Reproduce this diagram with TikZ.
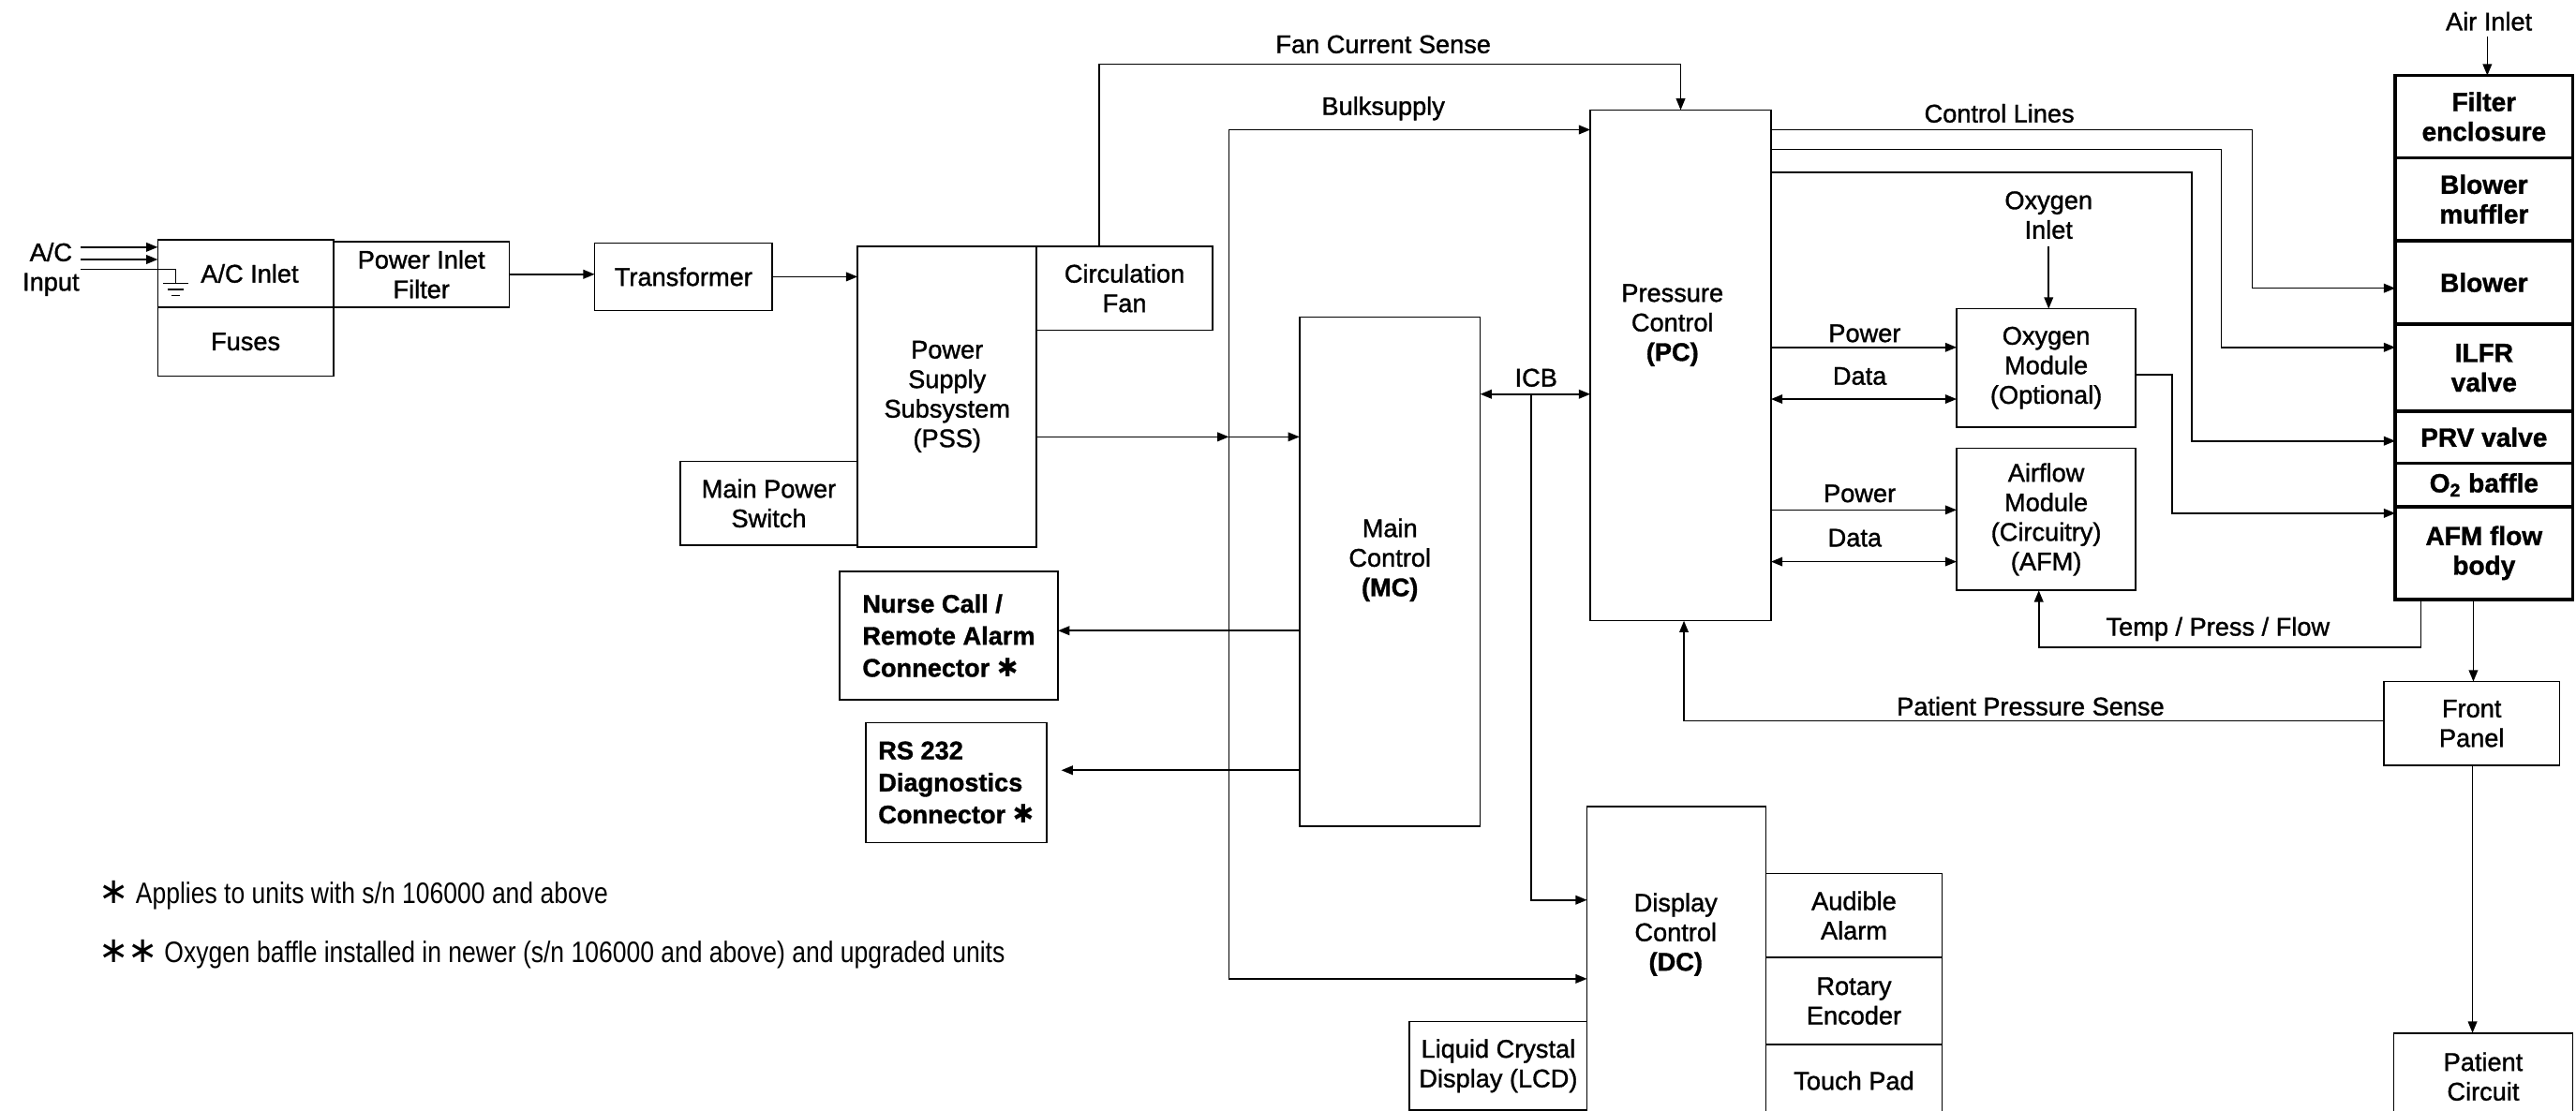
\documentclass[tikz,border=0pt]{standalone}
\usepackage{fontspec}
\setmainfont{Liberation Sans}[FakeBold=1.2]
\newfontfamily\narrowfont[FakeStretch=0.84]{Liberation Sans}
\newfontfamily\symfont{DejaVu Sans}
\usetikzlibrary{arrows.meta}
\newcommand\lab{\fontsize{15.5}{18}\selectfont}
\newcommand\blab{\fontsize{15.5}{19.5}\selectfont\bfseries}
\newcommand\rlab{\fontsize{16}{18}\selectfont\bfseries}
\newcommand\foot{\fontsize{18}{20}\selectfont\narrowfont}
\newcommand\astk{{\symfont\char"2731}}
\newcommand\astn{{\symfont\char"2217}}

\tikzset{
  box/.style={draw, line width=0.9pt, inner sep=0pt, outer sep=0pt,
    align=center, font=\lab, anchor=north west},
  rbox/.style={box, line width=2pt, font=\rlab, minimum width=108pt},
  wire/.style={line width=0.9pt},
  arr/.style={wire, -{Triangle[length=7pt,width=5.5pt]}},
  darr/.style={wire, {Triangle[length=7pt,width=5.5pt]}-{Triangle[length=7pt,width=5.5pt]}},
  txt/.style={inner sep=0pt, align=center, font=\lab},
}

\begin{document}
\begin{tikzpicture}[x=1pt, y=-1pt]
\useasboundingbox (0,0) rectangle (1568,676);

% ---------- power entry ----------
\node[box, minimum width=107pt, minimum height=41pt] (acin) at (96,146) {\hspace*{5pt}A/C Inlet};
\node[box, minimum width=107pt, minimum height=40pt] (pif) at (203,147) {Power Inlet\\Filter};
\node[box, minimum width=107pt, minimum height=42pt] (fuses) at (96,187) {Fuses};
\node[box, minimum width=108pt, minimum height=41pt] (xfmr) at (362,148) {Transformer};
\node[box, minimum width=109pt, minimum height=183pt] (pss) at (522,150) {Power\\Supply\\Subsystem\\(PSS)};
\node[box, minimum width=107pt, minimum height=51pt] (cfan) at (631,150) {Circulation\\Fan};
\node[box, minimum width=108pt, minimum height=51pt] (mps) at (414,281) {Main Power\\Switch};

\node[txt] (acinput) at (31,164) {A/C\\Input};
\coordinate (ac1) at (49,150.5);
\coordinate (ac2) at (49,158);
\coordinate (ac3) at (49,164);
\coordinate (gnd) at (107,172.5);
\draw[arr] (ac1) -- (ac1 -| acin.west);
\draw[arr] (ac2) -- (ac2 -| acin.west);
\draw[wire] (ac3) -- (ac3 -| gnd) -- (gnd);
\draw[wire] (99.5,172.5) -- (114.5,172.5)
            (102,176.3) -- (112,176.3)
            (104.5,180) -- (109.5,180);

\draw[arr] (pif.east) -- (pif.east -| xfmr.west);
\draw[arr] (xfmr.east) -- (xfmr.east -| pss.west);

% ---------- control boards ----------
\node[box, minimum width=110pt, minimum height=310pt] (mc) at (791,193) {};
\node[txt] (mclab) at (846,341) {Main\\Control\\\textbf{(MC)}};
\node[box, minimum width=110pt, minimum height=311pt] (pc) at (968,67) {};
\node[txt] (pclab) at (1018,198) {Pressure\\Control\\\textbf{(PC)}};
\node[box, minimum width=109pt, minimum height=186pt] (dc) at (966,491) {};
\node[txt] (dclab) at (1020,569) {Display\\Control\\\textbf{(DC)}};

\node[box, minimum width=107pt, minimum height=51pt] (alarm) at (1075,532) {Audible\\Alarm};
\node[box, minimum width=107pt, minimum height=53pt] (rotary) at (1075,583) {Rotary\\Encoder};
\node[box, minimum width=107pt, minimum height=44pt] (touch) at (1075,636) {Touch Pad};
\node[box, minimum width=108pt, minimum height=54pt] (lcd) at (858,622) {Liquid Crystal\\Display (LCD)};

\node[box, minimum width=133pt, minimum height=78pt, align=left, font=\blab] (nurse) at (511,348)
  {Nurse Call /\\Remote Alarm\\Connector \astk};
\node[box, minimum width=110pt, minimum height=73pt, align=left, font=\blab] (rs232) at (527,440)
  {RS 232\\Diagnostics\\Connector \astk};

% ---------- modules ----------
\node[box, minimum width=109pt, minimum height=72pt] (o2mod) at (1191,188) {Oxygen\\Module\\(Optional)};
\node[box, minimum width=109pt, minimum height=86.5pt] (afm) at (1191,273) {Airflow\\Module\\(Circuitry)\\(AFM)};
\node[txt] (o2in) at (1247,131) {Oxygen\\Inlet};
\draw[arr] (1247,150) -- (1247,0 |- o2mod.north);

% ---------- pneumatic column ----------
\node[rbox, minimum height=50pt] (filt) at (1458,46) {Filter\\enclosure};
\node[rbox, minimum height=50.5pt] (muffler) at (1458,96) {Blower\\muffler};
\node[rbox, minimum height=51pt] (blower) at (1458,146.5) {Blower};
\node[rbox, minimum height=53pt] (ilfr) at (1458,197.5) {ILFR\\valve};
\node[rbox, minimum height=31.5pt] (prv) at (1458,250.5) {PRV valve};
\node[rbox, minimum height=26.5pt] (baffle) at (1458,282) {O\textsubscript{2} baffle};
\node[rbox, minimum height=56.5pt] (afmbody) at (1458,308.5) {AFM flow\\body};
\node[txt] (airin) at (1515,13) {Air Inlet};
\draw[arr] (1514,22) -- (1514,0 |- filt.north);

\node[box, minimum width=107pt, minimum height=51pt] (front) at (1451,415) {Front\\Panel};
\node[box, minimum width=109pt, minimum height=53pt] (patient) at (1457,629) {Patient\\Circuit};
\draw[arr] (1505.5,0 |- afmbody.south) -- (1505.5,0 |- front.north);
\draw[arr] (1505,0 |- front.south) -- (1505,0 |- patient.north);

% ---------- supply bus ----------
\coordinate (busTop) at (748,79);
\coordinate (busPSS) at (748,266);
\coordinate (busBot) at (748,596);
\draw[wire] (busTop) -- (busBot);
\draw[arr] (pss.east |- busPSS) -- (busPSS);
\draw[arr] (busPSS) -- (busPSS -| mc.west);
\draw[arr] (busTop) -- (busTop -| pc.west);
\draw[arr] (busBot) -- (busBot -| dc.west);
\node[txt] (bulk) at (842,66) {Bulksupply};

% fan current sense
\coordinate (fanL) at (669,39);
\coordinate (fanR) at (1023,39);
\draw[arr] (fanL |- cfan.north) -- (fanL) -- (fanR) -- (fanR |- pc.north);
\node[txt] (fcs) at (842,27) {Fan Current Sense};

% inter-board bus
\coordinate (icb) at (932,240);
\coordinate (icbD) at (932,548);
\draw[darr] (icb -| mc.east) -- (icb -| pc.west);
\draw[arr] (icb) -- (icbD) -- (icbD -| dc.west);
\node[txt] (icblab) at (935,230) {ICB};

% external connectors
\coordinate (ncY) at (790,384);
\coordinate (rsY) at (790,469);
\coordinate (rsTip) at (646,469);
\draw[arr] (ncY -| mc.west) -- (ncY -| nurse.east);
\draw[arr] (rsY -| mc.west) -- (rsTip);

% PC to modules
\draw[arr] (pc.east |- 0,211.5) -- (o2mod.west |- 0,211.5);
\draw[darr] (pc.east |- 0,243) -- (o2mod.west |- 0,243);
\draw[arr] (pc.east |- 0,310.5) -- (afm.west |- 0,310.5);
\draw[darr] (pc.east |- 0,342) -- (afm.west |- 0,342);
\node[txt] (pw1) at (1135,203) {Power};
\node[txt] (dt1) at (1132,229) {Data};
\node[txt] (pw2) at (1132,300.5) {Power};
\node[txt] (dt2) at (1129,327.5) {Data};

% control lines
\draw[arr] (pc.east |- 0,79) -- (1371,79) -- (1371,175.5) -- (blower.west |- 0,175.5);
\draw[arr] (pc.east |- 0,91) -- (1352,91) -- (1352,211.5) -- (ilfr.west |- 0,211.5);
\draw[arr] (pc.east |- 0,105) -- (1334,105) -- (1334,268.5) -- (prv.west |- 0,268.5);
\draw[arr] (o2mod.east |- 0,228) -- (1322,228) -- (1322,312.5) -- (afmbody.west |- 0,312.5);
\node[txt] (ctl) at (1217,69) {Control Lines};

% sensing
\draw[arr] (1473.5,0 |- afmbody.south) -- (1473.5,394) -- (1241,394) -- (1241,0 |- afm.south);
\node[txt] (tpf) at (1350,383) {Temp / Press / Flow};
\draw[arr] (front.west |- 0,439) -- (1025,439) -- (1025,0 |- pc.south);
\node[txt] (pps) at (1236,430) {Patient Pressure Sense};

% notes
\node[inner sep=0pt, anchor=west, font=\foot] (fn1) at (60,545) {{\fontsize{22}{20}\selectfont\astn}\hspace{4pt}Applies to units with s/n 106000 and above};
\node[inner sep=0pt, anchor=west, font=\foot] (fn2) at (60,581) {{\fontsize{22}{20}\selectfont\astn\hspace{-1pt}\astn}\hspace{4pt}Oxygen baffle installed in newer (s/n 106000 and above) and upgraded units};
\end{tikzpicture}
\end{document}
